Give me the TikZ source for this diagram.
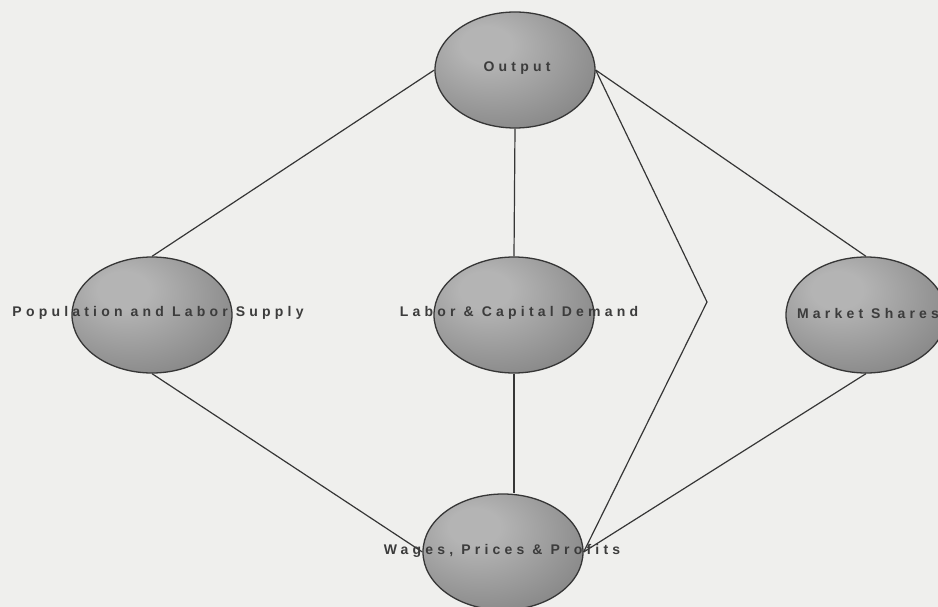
\documentclass[tikz,border=0pt]{standalone}
\usepackage{fontspec}
\newfontfamily\lblfont[LetterSpace=30]{Liberation Sans}
\usetikzlibrary{shapes.geometric}
\definecolor{bgc}{HTML}{EFEFED}
\definecolor{edgec}{HTML}{363636}
\definecolor{txtc}{HTML}{3C3C3C}
\definecolor{shin}{HTML}{B4B4B4}
\definecolor{shmid}{HTML}{909090}
\definecolor{shout}{HTML}{666666}
\pgfdeclareradialshading{ballshade}{\pgfpoint{-10bp}{12bp}}{color(0bp)=(shin); color(8bp)=(shin); color(30bp)=(shmid); color(55bp)=(shout); color(80bp)=(shout)}
\tikzset{
  blob/.style={ellipse, draw=edgec, line width=1.3pt, shading=ballshade, minimum width=160pt, minimum height=116pt, inner sep=0pt},
  lbl/.style={font=\lblfont\bfseries\fontsize{14}{17}\selectfont, text=txtc, inner sep=0pt},
  conn/.style={draw=edgec, line width=1.2pt}
}
\begin{document}
\begin{tikzpicture}[x=1pt,y=-1pt]
\useasboundingbox[fill=bgc] (0,0) rectangle (938,607);
\node[blob] (out) at (515,70) {};
\node[blob] (pop) at (152,315) {};
\node[blob] (lab) at (514,315) {};
\node[blob] (ms) at (866,315) {};
\node[blob] (wag) at (503,552) {};
\coordinate (zig) at (707,302);
\draw[conn] (out.west) -- (pop.north);
\draw[conn] (out.south) -- (lab.north);
\draw[conn] (out.east) -- (ms.north);
\draw[conn] (out.east) -- (zig) -- (wag.east);
\draw[conn] (pop.south) -- (wag.west);
\draw[conn] (lab.south) -- (lab.south |- wag.north);
\draw[conn] (ms.south) -- (wag.east);
\node[lbl] (outt) at (517,68) {Output};
\node[lbl] (popt) at (158,313) {Population and Labor Supply};
\node[lbl] (labt) at (519,313) {Labor \& Capital Demand};
\node[lbl] (mst) at (868,313) {Market Shares};
\node[lbl] (wagt) at (502,551) {Wages, Prices \& Profits};
\end{tikzpicture}
\end{document}
